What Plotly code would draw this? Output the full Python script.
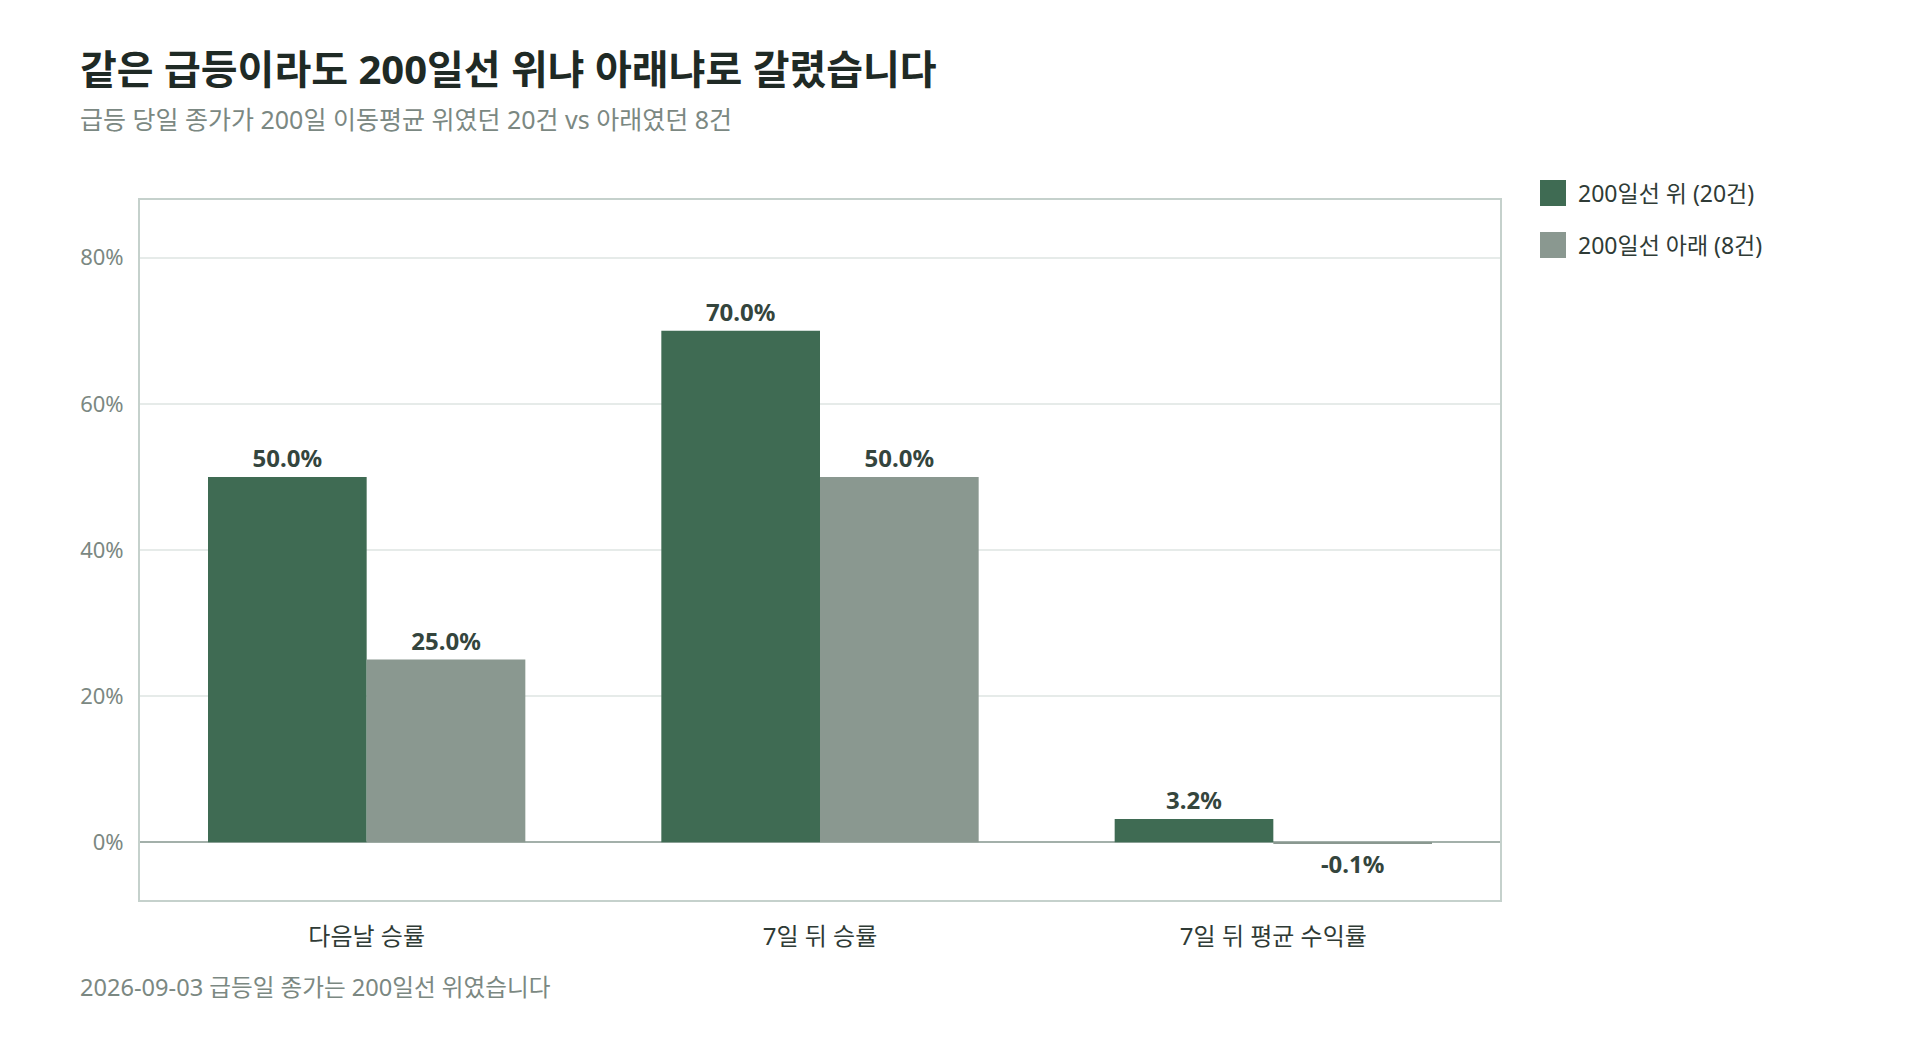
import plotly.graph_objects as go

categories = ["다음날 승률", "7일 뒤 승률", "7일 뒤 평균 수익률"]
series_names = ["200일선 위 (20건)", "200일선 아래 (8건)"]
above_values = [50.0, 70.0, 3.2]
below_values = [25.0, 50.0, -0.1]
y_ticks = [0, 20, 40, 60, 80]
y_tick_labels = ["0%", "20%", "40%", "60%", "80%"]

title_text = "같은 급등이라도 200일선 위냐 아래냐로 갈렸습니다"
subtitle_text = "급등 당일 종가가 200일 이동평균 위였던 20건 vs 아래였던 8건"
footer_text = "2026-09-03 급등일 종가는 200일선 위였습니다"

FONT = "Noto Sans, Noto Sans CJK KR"
DARK = "#3f6b53"
LIGHT = "#8a9890"
TEXT_DARK = "#2f3b36"
LABEL_DARK = "#34453d"
TEXT_GRAY = "#7b8882"

# page body has an 8px margin; figure coordinates = screen coordinates - 8
OFF = 8
W, H = 1920 - 2 * OFF, 1040 - 2 * OFF
L, T = 140 - OFF, 200 - OFF
PR, PB = 1500 - OFF, 900 - OFF
R, B = W - PR, H - PB
PW, PH = PR - L, PB - T


def px_x(px):
    return (px - OFF - L) / PW


def px_y(py):
    return (PB - (py - OFF)) / PH


fig = go.Figure()
for name, vals, col in [(series_names[0], above_values, DARK), (series_names[1], below_values, LIGHT)]:
    fig.add_trace(go.Bar(
        x=categories, y=vals, name=name, marker=dict(color=col, line=dict(width=0)),
        text=[f"{v:.1f}%" for v in vals], textposition="outside",
        textfont=dict(family=FONT, size=24, color=LABEL_DARK, weight="bold"),
        cliponaxis=False, showlegend=False,
    ))

fig.update_layout(
    width=W, height=H,
    margin=dict(l=L, r=R, t=T, b=B),
    paper_bgcolor="white", plot_bgcolor="white",
    barmode="group", bargap=0.3, bargroupgap=0,
    font=dict(family=FONT, color=TEXT_DARK),
    title=dict(text=title_text, x=(80 - OFF) / W, xref="container", xanchor="left",
               y=1 - (70 - OFF) / H, yref="container", yanchor="middle",
               font=dict(family=FONT, size=40, color="#1f2a25", weight="bold")),
    xaxis=dict(showgrid=False, showline=True, linecolor="#c5d1cc", linewidth=2, mirror=True,
               ticks="", tickfont=dict(family=FONT, size=24, color=TEXT_DARK), ticklabelstandoff=14),
    yaxis=dict(range=[-7.9, 87.9], tickvals=y_ticks, ticktext=y_tick_labels,
               showgrid=True, gridcolor="#e6ebe9", gridwidth=1.5,
               zeroline=True, zerolinecolor="#a3b0aa", zerolinewidth=2,
               showline=True, linecolor="#c5d1cc", linewidth=2, mirror=True,
               ticks="", tickfont=dict(family=FONT, size=22, color=TEXT_GRAY), ticklabelstandoff=10),
    showlegend=False,
)

fig.add_annotation(text=subtitle_text, xref="paper", yref="paper", x=px_x(78), y=px_y(119),
                   xanchor="left", yanchor="middle", showarrow=False,
                   font=dict(family=FONT, size=25, color=TEXT_GRAY))
fig.add_annotation(text=footer_text, xref="paper", yref="paper", x=px_x(78), y=px_y(987),
                   xanchor="left", yanchor="middle", showarrow=False,
                   font=dict(family=FONT, size=23.6, color=TEXT_GRAY))

# legend drawn manually
for i, (name, col) in enumerate([(series_names[0], DARK), (series_names[1], LIGHT)]):
    cy = 193 + 52 * i
    fig.add_shape(type="rect", xref="paper", yref="paper",
                  x0=px_x(1540), x1=px_x(1566), y0=px_y(cy + 13), y1=px_y(cy - 13),
                  fillcolor=col, line=dict(width=0))
    fig.add_annotation(text=name, xref="paper", yref="paper", x=px_x(1576), y=px_y(cy),
                       xanchor="left", yanchor="middle", showarrow=False,
                       font=dict(family=FONT, size=23, color=TEXT_DARK))

fig.write_html("out.html")
